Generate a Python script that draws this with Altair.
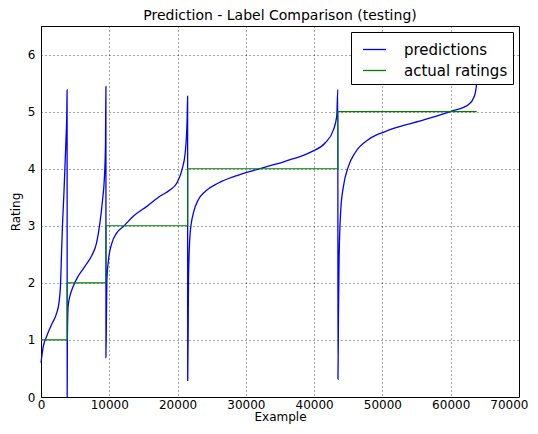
import altair as alt
import pandas as pd

# Step boundaries (Example index) and actual ratings per segment
step_x = [0, 3840, 9520, 21480, 43480, 63800]
ratings = [1, 2, 3, 4, 5]

# Prediction curve
pred_x = [0, 340, 820, 1550, 2290, 2630, 2870, 3010, 3160, 3360, 3510, 3660, 3780, 3820,
          3835, 3860, 3900, 3980, 4240, 4720, 5460, 6430, 7400, 8140, 8630, 9020, 9270, 9440, 9505,
          9515, 9600, 9650, 9890, 10390, 11120, 12090, 13550, 15510, 17460, 18920, 19900, 20640, 21120, 21400, 21470,
          21485, 21560, 21600, 21850, 22330, 23060, 24040, 25990, 28430, 32330, 35740, 39650, 41600, 42820, 43310, 43470,
          43490, 43560, 43650, 43900, 44290, 45020, 46000, 47950, 50390, 55270, 60150, 62580, 63460, 63800, 63850]
pred_y = [0.60, 0.89, 1.06, 1.27, 1.47, 1.65, 2.0, 2.53, 3.05, 3.58, 4.04, 4.51, 4.98, 5.38,
          0.0, 0.9, 1.30, 1.60, 1.77, 1.94, 2.12, 2.29, 2.47, 2.70, 3.05, 3.46, 3.81, 4.39, 5.44,
          0.69, 1.60, 2.06, 2.41, 2.70, 2.88, 2.99, 3.17, 3.34, 3.52, 3.63, 3.75, 3.98, 4.28, 4.86, 5.27,
          0.28, 1.30, 2.06, 2.88, 3.23, 3.46, 3.60, 3.75, 3.87, 4.01, 4.13, 4.30, 4.45, 4.68, 4.92, 5.39,
          0.31, 1.40, 2.41, 3.28, 3.69, 4.04, 4.28, 4.51, 4.65, 4.83, 5.01, 5.12, 5.27, 5.50, 5.90]

x_ticks = [0, 10000, 20000, 30000, 40000, 50000, 60000, 70000]
y_ticks = [0, 1, 2, 3, 4, 5, 6]

series_names = ["predictions", "actual ratings"]
series_colors = ["#0000ff", "#008000"]

pred_df = pd.DataFrame({"x": pred_x, "y": pred_y, "series": series_names[0],
                        "i": list(range(len(pred_x)))})

sx, sy = [], []
for k, r in enumerate(ratings):
    sx += [step_x[k], step_x[k + 1]]
    sy += [r, r]
step_df = pd.DataFrame({"x": sx, "y": sy, "series": series_names[1], "i": list(range(len(sx)))})

font = "DejaVu Sans"

xenc = alt.X("x:Q", title="Example",
             scale=alt.Scale(domain=[0, 70000], nice=False),
             axis=alt.Axis(values=x_ticks, format="d", labelPadding=2, titlePadding=1,
                           labelAlign={"condition": {"test": "datum.value == 70000", "value": "right"},
                                       "value": "center"},
                           labelOffset={"condition": {"test": "datum.value == 70000", "value": 9},
                                        "value": 0}))
yenc = alt.Y("y:Q", title="Rating",
             scale=alt.Scale(domain=[0, 6.5], nice=False),
             axis=alt.Axis(values=y_ticks, format="d", labelPadding=6, titlePadding=5))
color = alt.Color("series:N",
                  scale=alt.Scale(domain=series_names, range=series_colors),
                  legend=alt.Legend(title=None, orient="top-right", offset=6))

pred_line = alt.Chart(pred_df).mark_line(strokeWidth=1.3, interpolate="monotone").encode(
    x=xenc, y=yenc, color=color, order="i:Q")
step_line = alt.Chart(step_df).mark_line(strokeWidth=1.1).encode(
    x=xenc, y=yenc, color=color, order="i:Q")

chart = alt.layer(pred_line, step_line).properties(
    width=478, height=371,
    title=alt.TitleParams("Prediction - Label Comparison (testing)", font=font, fontSize=14,
                          fontWeight="normal", anchor="middle", color="black",
                          baseline="alphabetic", offset=7, dy=15),
    autosize=alt.AutoSizeParams(type="none"),
    padding={"left": 33, "top": 18, "right": 11, "bottom": 29},
).configure_view(stroke="black", strokeWidth=1).configure_axis(
    labelFont=font, labelFontSize=12, labelColor="black",
    titleFont=font, titleFontSize=12, titleFontWeight="normal", titleColor="black",
    grid=True, gridColor="black", gridDash=[1, 3], gridOpacity=0.7, gridWidth=1,
    domain=False, ticks=False, tickSize=0,
).configure_legend(
    labelFont=font, labelFontSize=15, labelColor="black",
    symbolType="stroke", symbolSize=529, symbolStrokeWidth=1.3,
    strokeColor="black", fillColor="white", padding=5, cornerRadius=0,
    labelOffset=17, rowPadding=0, symbolOffset=6,
)

chart.save("out.html", embed_options={"renderer": "svg", "actions": False})
